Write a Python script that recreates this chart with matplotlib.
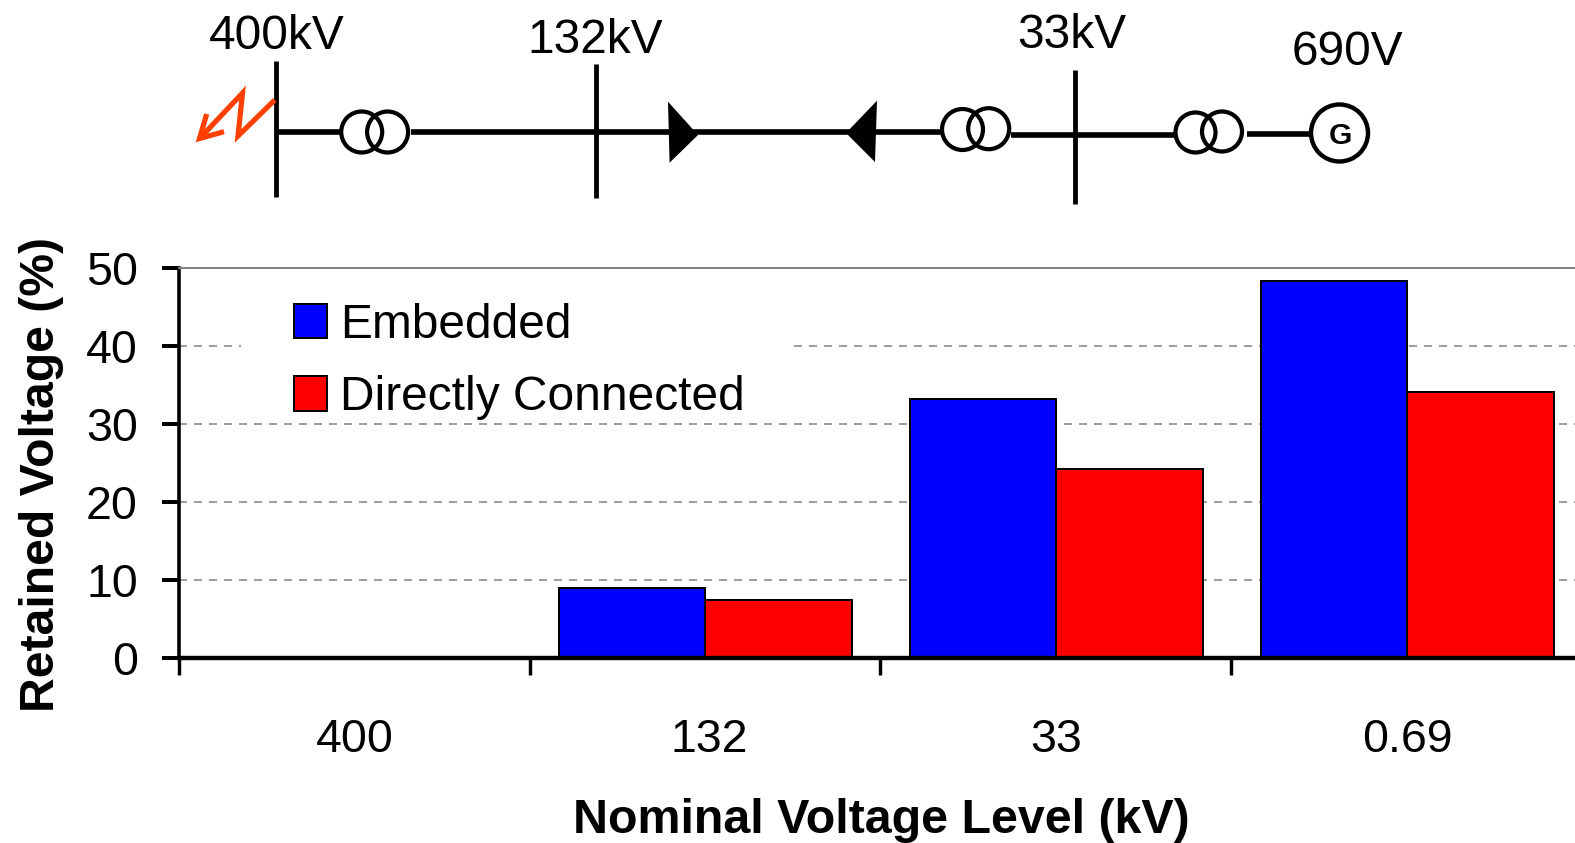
import matplotlib
matplotlib.use("Agg")
import matplotlib.pyplot as plt
from matplotlib.patches import Circle, Polygon, Rectangle
from matplotlib.ticker import FixedLocator
import numpy as np

plt.rcParams['font.family'] = ['Liberation Sans', 'DejaVu Sans']

# ---- data ----
categories = ['400', '132', '33', '0.69']
embedded = [0, 9.0, 33.2, 48.3]
directly_connected = [0, 7.45, 24.2, 34.1]
series_names = ['Embedded', 'Directly Connected']
y_ticks = [0, 10, 20, 30, 40, 50]

# ---- layout ----
W, H = 1575, 843
px = 0.72  # pixels -> points at dpi 100
FS = 33.5
fig = plt.figure(figsize=(W / 100, H / 100), dpi=100, facecolor='white')
ax = fig.add_axes([178.5 / W, (H - 657.7) / H, (W - 178.5) / W, 389.7 / H])
ov = fig.add_axes([0, 0, 1, 1], facecolor='none', zorder=5)
ov.set_xlim(0, W)
ov.set_ylim(H, 0)
ov.axis('off')

# ---- bars ----
n = np.arange(len(categories))
bw = 0.417
ax.bar(n + 0.501 - bw / 2, embedded, bw, color='#0000FF', edgecolor='black',
       linewidth=2.0 * px, zorder=2, label=series_names[0])
ax.bar(n + 0.501 + bw / 2, directly_connected, bw, color='#FF0000', edgecolor='black',
       linewidth=2.0 * px, zorder=2, label=series_names[1])

ax.set_xlim(0, (W - 178.5) / 351)
ax.set_ylim(0, 50)
ax.set_yticks(y_ticks)
ax.xaxis.set_major_locator(FixedLocator(list(range(len(categories) + 1))))
ax.xaxis.set_minor_locator(FixedLocator(list(n + np.array([0.503, 0.511, 0.5, 0.5]))))
ax.set_xticklabels([''] * (len(categories) + 1))
ax.set_xticklabels(categories, minor=True)
ax.tick_params(axis='x', which='major', length=17 * px, width=3.4 * px, color='black')
ax.tick_params(axis='x', which='minor', length=0, pad=60 * px, labelsize=FS)
ax.tick_params(axis='y', which='major', length=17.5 * px, width=4 * px, pad=23 * px, labelsize=FS)

ax.spines['right'].set_visible(False)
ax.spines['top'].set_color('#808080')
ax.spines['top'].set_linewidth(2 * px)
ax.spines['left'].set_linewidth(3.6 * px)
ax.spines['bottom'].set_linewidth(4.4 * px)

ax.set_axisbelow(True)
ax.grid(axis='y', color='#808080', linewidth=1.5 * px, linestyle=(0, (8 / 1.5, 7 / 1.5)))

ax.set_xlabel('Nominal Voltage Level (kV)', fontsize=34.8, fontweight='bold', va='baseline')
ax.xaxis.set_label_coords(0.5034, -0.4506)
ax.set_ylabel('Retained Voltage (%)', fontsize=34.65, fontweight='bold', va='baseline')
ax.yaxis.set_label_coords(-0.0895, 0.469)

# white block behind the legend interrupts the 40 % gridline
ax.add_patch(Rectangle((241, 300), 552, 115, transform=ov.transData, facecolor='white',
                       edgecolor='none', zorder=1.5))
leg = ax.legend(loc='upper left', bbox_to_anchor=(294, 302.5), bbox_transform=ov.transData,
                frameon=False, fontsize=34.5, borderpad=0, borderaxespad=0,
                handlelength=0.69, handleheight=0.72, handletextpad=0.27, labelspacing=0.58)
leg.set_zorder(6)

# ---- one-line diagram above the chart ----
BK = 'black'


def wire(xs, ys, lw=5.6, color=BK, cap='butt', join='miter'):
    ov.plot(xs, ys, color=color, lw=lw * px, solid_capstyle=cap, solid_joinstyle=join)


for x, y0, y1 in [(276, 61, 197), (596, 64, 198), (1075, 70, 204)]:
    wire([x, x], [y0, y1], lw=4.8)

wire([276, 341], [132.3, 132.3])
wire([411, 941], [132.3, 132.3])
wire([1010.5, 1174.5], [134.7, 134.7])
wire([1247, 1310], [133.7, 133.7])

for cx, cy, r in [(361.7, 132, 20.5), (387.6, 132, 20.5), (962.5, 129.5, 20.5), (988.7, 128.7, 20.5),
                  (1195.5, 132.5, 20), (1222, 131.5, 20)]:
    ov.add_patch(Circle((cx, cy), r, facecolor='none', edgecolor=BK, linewidth=4.2 * px))
ov.add_patch(Circle((1339.5, 133), 28.5, facecolor='white', edgecolor=BK, linewidth=4.4 * px))
ov.text(1340.5, 136, 'G', fontsize=21.5, fontweight='bold', ha='center', va='center', color=BK)

ov.add_patch(Polygon([(668, 101.7), (698, 135), (669.6, 162.7)], closed=True, facecolor=BK, edgecolor='none'))
ov.add_patch(Polygon([(877, 100.7), (846, 133), (875, 162)], closed=True, facecolor=BK, edgecolor='none'))

FAULT = '#FF4000'
wire([274.7, 238, 242.5, 202], [100, 136, 93, 136], lw=5.2, color=FAULT)
ov.plot([206.7, 199.5, 224], [114, 138.5, 131.7], color=FAULT, lw=5.2 * px,
        solid_joinstyle='miter', solid_capstyle='butt')

for label, x, y in [('400kV', 277, 49.3), ('132kV', 595, 53.3), ('33kV', 1071.5, 48.3), ('690V', 1347.6, 65)]:
    ov.text(x, y, label, fontsize=34.4, ha='center', va='baseline', color=BK)

fig.savefig('out.png', dpi=100, facecolor='white')
